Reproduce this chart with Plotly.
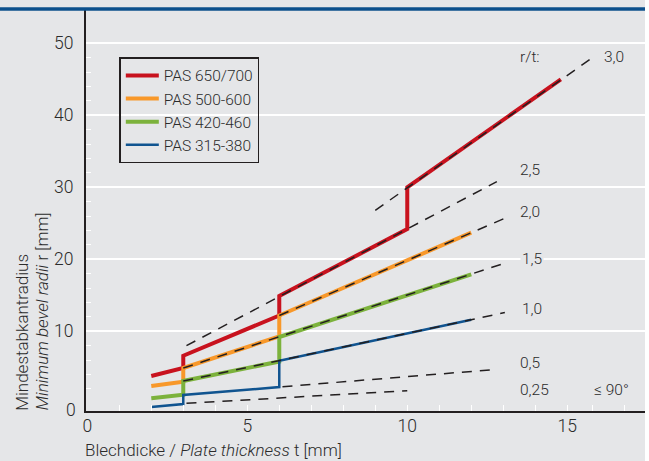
import plotly.graph_objects as go

# ---------------- data ----------------
series_names = ["PAS 650/700", "PAS 500-600", "PAS 420-460", "PAS 315-380"]
series_colors = ["#c8121e", "#f8982a", "#7cb23c", "#105490"]
series_widths = [4, 4, 4, 2.5]

thickness_red = [2, 3, 3, 6, 6, 10, 10, 14.8]
radius_red = [3.8, 4.9, 6.6, 12.2, 14.9, 24.2, 30.0, 45.0]

thickness_orange = [2, 3, 3, 6, 6, 12]
radius_orange = [2.4, 3.0, 4.9, 9.3, 12.2, 23.7]

thickness_green = [2, 3, 3, 6, 6, 12]
radius_green = [0.7, 1.2, 3.1, 5.8, 9.2, 17.9]

thickness_blue = [2, 3, 3, 6, 6, 12]
radius_blue = [-0.5, -0.1, 1.15, 2.25, 5.9, 11.6]

# r/t reference lines (dashed), start and end points
rt_labels = ["3,0", "2,5", "2,0", "1,5", "1,0", "0,5", "0,25"]
ref_t_start = [9.0, 3.1, 6.0, 3.0, 3.0, 6.1, 3.1]
ref_r_start = [26.8, 8.0, 12.2, 4.9, 3.1, 2.3, 0.0]
ref_t_end = [15.8, 12.8, 13.05, 13.0, 13.05, 12.76, 10.0]
ref_r_end = [48.05, 30.8, 25.7, 19.4, 12.6, 4.7, 1.75]

x_tick_vals = [0, 5, 10, 15]
y_tick_vals = [10, 20, 30, 40, 50]

# ---------------- styling ----------------
BG = "#e5e6e8"
INK = "#231f20"
TXT = "#2b2b2b"
FONT = "Roboto"

fig = go.Figure()

all_t = [thickness_red, thickness_orange, thickness_green, thickness_blue]
all_r = [radius_red, radius_orange, radius_green, radius_blue]
for name, color, width, t, r in zip(series_names, series_colors, series_widths, all_t, all_r):
    fig.add_trace(go.Scatter(
        x=t, y=r, mode="lines", name=name, legendgroup=name,
        line=dict(color=color, width=width), hoverinfo="skip",
    ))

for lab, t0, r0, t1, r1 in zip(rt_labels, ref_t_start, ref_r_start, ref_t_end, ref_r_end):
    fig.add_trace(go.Scatter(
        x=[t0, t1], y=[r0, r1], mode="lines", showlegend=False,
        line=dict(color=INK, width=1.5, dash="10px,8px"), hoverinfo="skip",
    ))

# label positions (data coordinates)
label_pos = {
    "3,0": (16.1, 48.1),
    "2,5": (13.46, 32.4),
    "2,0": (13.46, 26.6),
    "1,5": (13.52, 20.0),
    "1,0": (13.52, 13.1),
    "0,5": (13.46, 5.56),
    "0,25": (13.46, 1.8),
}
annotations = []
for lab in rt_labels:
    x, y = label_pos[lab]
    annotations.append(dict(
        x=x, y=y, xref="x", yref="y", text=lab, showarrow=False,
        xanchor="left", yanchor="middle", font=dict(size=15.5, color=TXT),
        bgcolor=BG if lab == "1,5" else None, borderpad=1,
    ))
annotations.append(dict(x=13.46, y=48.1, xref="x", yref="y", text="r/t:", showarrow=False,
                        xanchor="left", yanchor="middle", font=dict(size=15.5, color=TXT)))
annotations.append(dict(x=15.76, y=1.85, xref="x", yref="y", text="\u2264 90\u00b0", showarrow=False,
                        xanchor="left", yanchor="middle", font=dict(size=15.5, color=TXT)))
# zero label of the y axis
annotations.append(dict(x=-0.014, y=-0.93, xref="paper", yref="y", text="0", showarrow=False,
                        xanchor="right", yanchor="middle", font=dict(size=17.5, color=TXT)))
# axis titles
annotations.append(dict(x=-0.006, y=-0.097, xref="paper", yref="paper",
                        text="Blechdicke / <i>Plate thickness</i> t [mm]", showarrow=False,
                        xanchor="left", yanchor="middle", font=dict(size=17, color=TXT)))
annotations.append(dict(x=-0.1145, y=-0.003, xref="paper", yref="paper",
                        text="Mindestabkantradius", showarrow=False, textangle=-90,
                        xanchor="center", yanchor="bottom", font=dict(size=17, color=TXT)))
annotations.append(dict(x=-0.0787, y=-0.003, xref="paper", yref="paper",
                        text="<i>Minimum bevel radii</i> r [mm]", showarrow=False, textangle=-90,
                        xanchor="center", yanchor="bottom", font=dict(size=17, color=TXT)))

shapes = [
    # blue bar along the top
    dict(type="line", xref="paper", yref="paper", x0=-0.2, x1=1.0, y0=1.0025, y1=1.0025,
         line=dict(color="#0c508c", width=3.5), layer="above"),
    # white strip at the right edge
    dict(type="rect", xref="paper", yref="paper", x0=1.0, x1=1.05, y0=-0.3, y1=1.1,
         fillcolor="white", line=dict(width=0), layer="above"),
]

fig.update_layout(
    width=649, height=461,
    margin=dict(l=86, r=4, t=10, b=50, pad=0),
    paper_bgcolor=BG, plot_bgcolor=BG,
    font=dict(family=FONT, color=TXT, weight=300),
    showlegend=True,
    legend=dict(
        x=0.0596, y=0.882, xanchor="left", yanchor="top",
        bgcolor="rgba(0,0,0,0)", bordercolor=INK, borderwidth=1.5,
        font=dict(size=15.5, color=TXT), tracegroupgap=0, itemwidth=33,
        entrywidth=130, entrywidthmode="pixels",
    ),
    annotations=annotations,
    shapes=shapes,
    xaxis=dict(
        range=[-0.04, 17.43], showgrid=False, zeroline=False,
        showline=True, linecolor=INK, linewidth=2,
        tickvals=x_tick_vals, ticks="", ticklabelstandoff=-2,
        tickfont=dict(size=17.5, color=TXT),
        minor=dict(tickvals=[1, 2, 3, 4, 5, 6, 7, 8, 9, 10, 11, 12, 13, 14, 15, 15.8, 16.8],
                   ticks="inside", ticklen=6, tickcolor="white", tickwidth=1.3, showgrid=False),
    ),
    yaxis=dict(
        range=[-1.07, 54.63], showgrid=True, gridcolor="white", gridwidth=1.6,
        zeroline=False, showline=True, linecolor=INK, linewidth=2,
        tickvals=y_tick_vals, ticks="", ticklabelstandoff=7,
        tickfont=dict(size=17.5, color=TXT),
        minor=dict(tickvals=[2, 4, 6, 8, 12, 14, 16, 18, 22, 24, 26, 28, 32, 34, 36, 38,
                             42, 44, 46, 48],
                   ticks="inside", ticklen=5, tickcolor="white", tickwidth=1.3, showgrid=False),
    ),
)

fig.write_html("out.html", config={"displayModeBar": False},
               post_script="document.body.style.margin='0';")
